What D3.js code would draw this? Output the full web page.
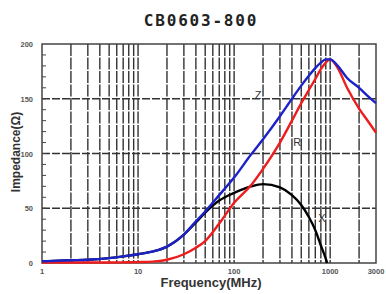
<html>
<head>
<meta charset="utf-8">
<style>
    body { margin:0; background:#fff; }
</style>
</head>
<body>
<svg id="plot"></svg>
<script src="https://d3js.org/d3.v7.min.js"></script>
<script>

// frequency points (MHz)
var freqs = [1,2,3,5,7,10,15,20,30,40,50,70,100,150,200,300,400,500,600,700,800,900,1000,1200,1500,2000,2500,3000];

// impedance Z
var zVals = [1.5,2.5,3,4.5,6,8,11,15,26,38,47,62,78,99,113,134,150,162,171,178,183,186,186,180,169,160,152,146];

// resistance R
var rVals = [0.5,0.5,0.5,0.5,0.6,0.8,1.5,3,8,14,20,36,55,71,86,110,130,146,158,168,177,183,186,178,160,141,129,119];

// reactance X (ends where it hits zero)
var xFreqs = [1,2,3,5,7,10,15,20,30,40,50,70,100,150,200,300,400,500,600,700,800,900,930];
var xVals  = [1.5,2.5,3,4.5,6,8,11,15,26,37,46,57,64,70,72,69,62,53,42,30,16,4,0];

var xTicks = [1,10,100,1000,3000];
var yTicks = [0,50,100,150,200];

var initGraph = function(target)
{
    var screen = {width:386, height:294};
    var margins = {top:44, bottom:31, left:42, right:10};
    var graph = {
        width:screen.width-margins.left-margins.right,
        height:screen.height-margins.top-margins.bottom
    };

    var svg = d3.select(target)
        .attr("width",screen.width)
        .attr("height",screen.height);

    var xScale = d3.scaleLog()
        .domain([1,3000])
        .range([0,graph.width]);

    var yScale = d3.scaleLinear()
        .domain([0,200])
        .range([graph.height,0]);

    var g = svg.append("g")
        .attr("transform","translate("+margins.left+","+margins.top+")");

    // vertical grid lines, 2..9 of every decade
    var vLines = [];
    [1,10,100,1000].forEach(function(d)
    {
        for(var i=1;i<10;i++)
        {
            var v = d*i;
            if(v>1 && v<3000) { vLines.push(v); }
        }
    });

    g.selectAll(".vgrid")
        .data(vLines)
        .enter()
        .append("line")
        .classed("vgrid",true)
        .attr("x1",function(d){return xScale(d);})
        .attr("x2",function(d){return xScale(d);})
        .attr("y1",0)
        .attr("y2",graph.height)
        .attr("stroke","#333")
        .attr("stroke-width",1.4)
        .attr("stroke-dasharray","12,1.5");

    g.selectAll(".hgrid")
        .data([50,100,150])
        .enter()
        .append("line")
        .classed("hgrid",true)
        .attr("x1",0)
        .attr("x2",graph.width)
        .attr("y1",function(d){return yScale(d);})
        .attr("y2",function(d){return yScale(d);})
        .attr("stroke","#333")
        .attr("stroke-width",1.4)
        .attr("stroke-dasharray","8,2");

    // small ticks on the left edge every 10
    g.selectAll(".ytick")
        .data(d3.range(10,200,10))
        .enter()
        .append("line")
        .attr("x1",0)
        .attr("x2",4)
        .attr("y1",function(d){return yScale(d);})
        .attr("y2",function(d){return yScale(d);})
        .attr("stroke","#444")
        .attr("stroke-width",1);

    // frame
    g.append("rect")
        .attr("x",0)
        .attr("y",0)
        .attr("width",graph.width)
        .attr("height",graph.height)
        .attr("fill","none")
        .attr("stroke","#444")
        .attr("stroke-width",1.5);

    var line = d3.line()
        .x(function(d){return xScale(d[0]);})
        .y(function(d){return yScale(d[1]);})
        .curve(d3.curveMonotoneX);

    var zipUp = function(fs,vs)
    {
        return fs.map(function(f,i){return [f,vs[i]];});
    };

    var series = [
        {name:"X", pts:zipUp(xFreqs,xVals), color:"#000000"},
        {name:"R", pts:zipUp(freqs,rVals), color:"#ee1c1c"},
        {name:"Z", pts:zipUp(freqs,zVals), color:"#1c22c8"}
    ];

    g.selectAll(".curve")
        .data(series)
        .enter()
        .append("path")
        .classed("curve",true)
        .attr("d",function(s){return line(s.pts);})
        .attr("fill","none")
        .attr("stroke",function(s){return s.color;})
        .attr("stroke-width",2.4);

    // curve labels
    var curveLabels = [
        {text:"Z", f:178, v:150},
        {text:"R", f:453, v:107},
        {text:"X", f:820, v:37}
    ];

    g.selectAll(".clabel")
        .data(curveLabels)
        .enter()
        .append("text")
        .text(function(d){return d.text;})
        .attr("x",function(d){return xScale(d.f);})
        .attr("y",function(d){return yScale(d.v);})
        .attr("text-anchor","middle")
        .attr("font-family","Liberation Sans, Arial, sans-serif")
        .attr("font-size",11)
        .attr("fill","#333");

    // tick labels
    g.selectAll(".xlab")
        .data(xTicks)
        .enter()
        .append("text")
        .text(function(d){return d;})
        .attr("x",function(d){return xScale(d);})
        .attr("y",graph.height+11)
        .attr("text-anchor","middle")
        .attr("font-family","Liberation Sans, Arial, sans-serif")
        .attr("font-weight","bold")
        .attr("font-size",7.5)
        .attr("fill","#555");

    g.selectAll(".ylab")
        .data(yTicks)
        .enter()
        .append("text")
        .text(function(d){return d;})
        .attr("x",-9)
        .attr("y",function(d){return yScale(d)+3;})
        .attr("text-anchor","end")
        .attr("font-family","Liberation Sans, Arial, sans-serif")
        .attr("font-weight","bold")
        .attr("font-size",7.5)
        .attr("fill","#555");

    createLabels(svg,margins,graph);
};

var createLabels = function(svg,margins,graph)
{
    svg.append("text")
        .text("CB0603-800")
        .attr("x",201)
        .attr("y",26)
        .attr("text-anchor","middle")
        .attr("font-family","DejaVu Sans Mono, monospace")
        .attr("font-weight","bold")
        .attr("font-size",16)
        .attr("letter-spacing",1.8)
        .attr("fill","#222");

    svg.append("g")
        .attr("transform","translate(20,152)")
        .append("text")
        .text("Impedance(Ω)")
        .attr("transform","rotate(-90)")
        .attr("text-anchor","middle")
        .attr("font-family","Liberation Sans, Arial, sans-serif")
        .attr("font-weight","bold")
        .attr("font-size",12)
        .attr("fill","#333");

    svg.append("text")
        .text("Frequency(MHz)")
        .attr("x",211)
        .attr("y",287)
        .attr("text-anchor","middle")
        .attr("font-family","Liberation Sans, Arial, sans-serif")
        .attr("font-weight","bold")
        .attr("font-size",13)
        .attr("fill","#333");
};

initGraph("#plot");

</script>
</body>
</html>
